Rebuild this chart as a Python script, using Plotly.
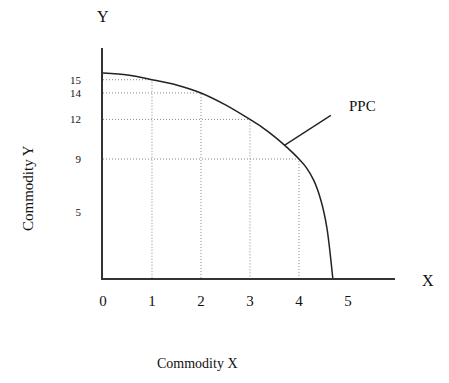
import plotly.graph_objects as go

# PPC schedule points (dotted guides)
guide_x = [1, 2, 3, 4]
guide_y = [15, 14, 12, 9]

# Curve
curve_x = [0, 0.5, 1, 1.5, 2, 2.5, 3, 3.25, 3.5, 3.75, 4, 4.15, 4.3, 4.45, 4.57, 4.69]
curve_y = [15.5, 15.35, 15, 14.6, 14, 13.1, 12, 11.4, 10.7, 9.9, 9, 8.35, 7.4, 5.85, 3.8, 0]

# Pointer to the curve
pointer_x = [3.71, 4.65]
pointer_y = [10.05, 12.3]

x_ticks = [0, 1, 2, 3, 4, 5]
y_ticks = [15, 14, 12, 9, 5]

FONT = "Liberation Serif"

fig = go.Figure()

# dotted guide lines
for gx, gy in zip(guide_x, guide_y):
    fig.add_trace(go.Scatter(x=[0, gx, gx], y=[gy, gy, 0], mode="lines",
                             line=dict(color="#888888", width=1, dash="1px,2px"),
                             hoverinfo="skip", showlegend=False))

fig.add_trace(go.Scatter(x=curve_x, y=curve_y, mode="lines",
                         line=dict(color="#222222", width=1.5, shape="spline", smoothing=0.8),
                         showlegend=False))

fig.add_trace(go.Scatter(x=pointer_x, y=pointer_y, mode="lines",
                         line=dict(color="#222222", width=1.3),
                         showlegend=False))

fig.add_annotation(x=5.3, y=13.0, text="PPC", showarrow=False,
                   font=dict(family=FONT, size=15, color="#111"))

fig.update_layout(
    width=449, height=383,
    margin=dict(l=103, r=54, t=48, b=105),
    plot_bgcolor="white", paper_bgcolor="white",
    xaxis=dict(range=[0, 5.96], showgrid=False, zeroline=False,
               showline=True, linecolor="#333", linewidth=1.5,
               tickvals=x_ticks, ticktext=[str(v) for v in x_ticks],
               ticks="outside", ticklen=8, tickcolor="rgba(0,0,0,0)",
               tickfont=dict(family=FONT, size=15, color="#111")),
    yaxis=dict(range=[0, 17.4], showgrid=False, zeroline=False,
               showline=True, linecolor="#333", linewidth=1.5,
               tickvals=y_ticks, ticktext=[str(v) for v in y_ticks],
               ticks="outside", ticklen=18, tickcolor="rgba(0,0,0,0)",
               tickfont=dict(family=FONT, size=11, color="#111")),
    annotations=list(fig.layout.annotations) + [
        dict(xref="paper", yref="paper", x=0.0, y=1.135, text="Y", showarrow=False,
             xanchor="center", yanchor="middle",
             font=dict(family=FONT, size=16, color="#111")),
        dict(xref="paper", yref="paper", x=1.113, y=-0.013, text="X", showarrow=False,
             xanchor="center", yanchor="middle",
             font=dict(family=FONT, size=16, color="#111")),
        dict(xref="paper", yref="paper", x=-0.257, y=0.391, text="Commodity Y", showarrow=False,
             xanchor="center", yanchor="middle",
             textangle=-90, font=dict(family=FONT, size=15, color="#111")),
        dict(xref="paper", yref="paper", x=0.322, y=-0.372, text="Commodity X", showarrow=False,
             xanchor="center", yanchor="middle",
             font=dict(family=FONT, size=14, color="#111")),
    ],
)

fig.write_html("out.html")
